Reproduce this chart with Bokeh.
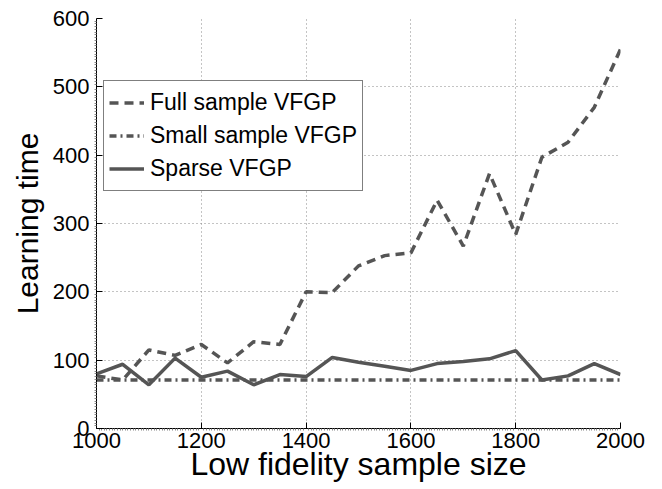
from bokeh.plotting import figure
from bokeh.models import Range1d, FixedTicker, Legend, LegendItem
from bokeh.embed import file_html
from bokeh.resources import INLINE

sample_size = [1000, 1050, 1100, 1150, 1200, 1250, 1300, 1350, 1400, 1450, 1500,
               1550, 1600, 1650, 1700, 1750, 1800, 1850, 1900, 1950, 2000]
full_vfgp = [77, 71, 115, 107, 123, 96, 127, 123, 200, 199, 238,
             253, 257, 334, 267, 373, 284, 397, 419, 470, 555]
small_vfgp = [71] * 21
sparse_vfgp = [80, 94, 64, 103, 75, 84, 64, 79, 76, 104, 97,
               91, 85, 95, 98, 102, 114, 71, 77, 95, 79]
x_ticks = [1000, 1200, 1400, 1600, 1800, 2000]
y_ticks = [0, 100, 200, 300, 400, 500, 600]

FONT = "Liberation Sans"
LINE = "#555555"

p = figure(width=662, height=489, output_backend="svg", toolbar_location=None,
           x_range=Range1d(1000, 2000), y_range=Range1d(0, 600),
           min_border_left=96, min_border_top=18, min_border_right=42,
           min_border_bottom=61)
p.outline_line_color = None
p.background_fill_color = "white"
p.border_fill_color = "white"

for ax, ticks, nminor in ((p.xaxis[0], x_ticks, 40), (p.yaxis[0], y_ticks, 25)):
    ax.ticker = FixedTicker(ticks=ticks,
                            minor_ticks=[t0 + (t1 - t0) * k / nminor
                                         for t0, t1 in zip(ticks[:-1], ticks[1:])
                                         for k in range(1, nminor)])
    ax.major_tick_in = 6
    ax.major_tick_out = 0
    ax.minor_tick_in = 0
    ax.minor_tick_out = 2
    ax.minor_tick_line_color = "#888888"
    ax.axis_line_color = "black"
    ax.major_tick_line_color = "black"
    ax.major_label_text_font = FONT
    ax.major_label_text_font_size = "22px"
    ax.major_label_text_color = "black"
    ax.axis_label_text_font = FONT
    ax.axis_label_text_font_style = "normal"
    ax.axis_label_text_color = "black"

p.xaxis.axis_label = "Low fidelity sample size"
p.xaxis.axis_label_text_font_size = "32px"
p.xaxis.major_label_standoff = 2
p.xaxis.axis_label_standoff = -5
p.yaxis.axis_label = "Learning time"
p.yaxis.axis_label_text_font_size = "30px"
p.yaxis.major_label_standoff = 5
p.yaxis.axis_label_standoff = 6

for g in (p.xgrid[0], p.ygrid[0]):
    g.grid_line_color = "#888888"
    g.grid_line_dash = "1 3"
    g.grid_line_width = 1
p.xgrid.ticker = FixedTicker(ticks=x_ticks)
p.ygrid.ticker = FixedTicker(ticks=y_ticks)

r_full = p.line(sample_size, full_vfgp, line_color=LINE, line_width=3.5,
                line_dash="9 6")
r_small = p.line(sample_size, small_vfgp, line_color=LINE, line_width=3.5,
                 line_dash="7 4 2 4")
r_sparse = p.line(sample_size, sparse_vfgp, line_color=LINE, line_width=3.5)

legend = Legend(items=[LegendItem(label="Full sample VFGP", renderers=[r_full]),
                       LegendItem(label="Small sample VFGP", renderers=[r_small]),
                       LegendItem(label="Sparse VFGP", renderers=[r_sparse])],
                location=(7, 237))
legend.label_text_font = FONT
legend.label_text_font_size = "23px"
legend.label_text_color = "black"
legend.glyph_width = 35
legend.glyph_height = 33
legend.label_height = 33
legend.label_standoff = 6
legend.spacing = 0
legend.padding = 5
legend.margin = 0
legend.border_line_color = "black"
legend.border_line_width = 1
legend.background_fill_alpha = 1
p.add_layout(legend, "center")

open("out.html", "w").write(file_html(p, INLINE))
